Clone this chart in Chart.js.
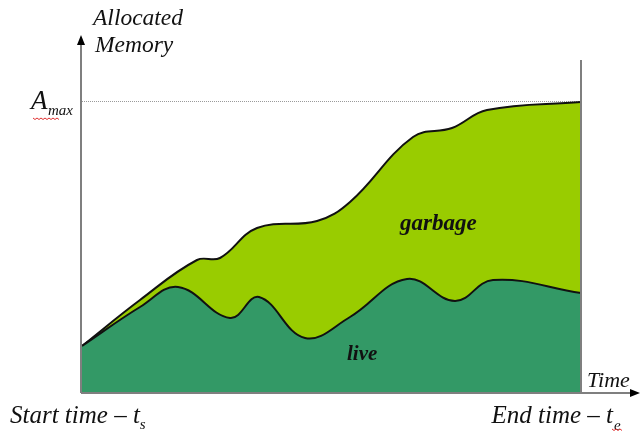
<!DOCTYPE html>
<html>
<head>
<meta charset="utf-8">
<script src="https://cdn.jsdelivr.net/npm/chart.js@4.4.1/dist/chart.umd.min.js"></script>
<style>
  html, body { margin: 0; padding: 0; background: #fff; }
  canvas { display: block; }
</style>
</head>
<body>
<canvas id="memChart" width="641" height="432"></canvas>
<script>
// time runs 0..499 (start -> end), memory 0..358 (Amax ~ 292)
const liveTime = [0, 58, 96, 148, 177, 223, 268, 325, 373, 411, 499];
const liveMemory = [47, 86, 106, 75, 96, 55, 76, 114, 92, 113, 100];

const garbageTime = [0, 58, 115, 138, 175, 235, 268, 331, 370, 405, 499];
const garbageMemory = [47, 93, 133, 135, 165, 172, 191, 256, 265, 283, 291];

const amax = 292;
const yLabel = ['Allocated', 'Memory'];
const xLabel = 'Time';
const startLabel = 'Start time \u2013 t';
const endLabel = 'End time \u2013 t';

const toPoints = (xs, ys) => xs.map((x, i) => ({ x: x, y: ys[i] }));

const decorations = {
    id: 'decorations',
    beforeDatasetsDraw(chart) {
        const { ctx, chartArea, scales } = chart;
        const y = Math.round(scales.y.getPixelForValue(amax)) + 0.5;
        ctx.save();
        ctx.strokeStyle = '#9a9a9a';
        ctx.lineWidth = 1;
        ctx.setLineDash([1, 1]);
        ctx.beginPath();
        ctx.moveTo(chartArea.left, y);
        ctx.lineTo(chartArea.right, y);
        ctx.stroke();
        ctx.restore();
    },
    afterDraw(chart) {
        const { ctx, chartArea } = chart;
        const left = chartArea.left, bottom = chartArea.bottom, right = chartArea.right;
        ctx.save();
        ctx.strokeStyle = '#7f7f7f';
        ctx.lineWidth = 2;
        // axes
        ctx.beginPath();
        ctx.moveTo(left - 1, bottom);
        ctx.lineTo(left - 1, 44);
        ctx.moveTo(left - 1, bottom);
        ctx.lineTo(630, bottom);
        ctx.moveTo(right, bottom);
        ctx.lineTo(right, 60);
        ctx.stroke();
        // arrow heads
        ctx.fillStyle = '#000';
        ctx.beginPath();
        ctx.moveTo(left - 1, 35);
        ctx.lineTo(left - 5, 45);
        ctx.lineTo(left + 3, 45);
        ctx.closePath();
        ctx.fill();
        ctx.beginPath();
        ctx.moveTo(640, bottom);
        ctx.lineTo(630, bottom - 4);
        ctx.lineTo(630, bottom + 4);
        ctx.closePath();
        ctx.fill();

        // text
        ctx.fillStyle = '#111';
        ctx.textBaseline = 'alphabetic';
        ctx.font = 'italic 23.5px "Liberation Serif"';
        ctx.fillText(yLabel[0], 93, 25);
        ctx.fillText(yLabel[1], 95, 52);
        ctx.font = 'italic 22px "Liberation Serif"';
        ctx.fillText(xLabel, 587, 387);

        ctx.font = 'italic 27px "Liberation Serif"';
        ctx.fillText('A', 31, 109);
        ctx.font = 'italic 15px "Liberation Serif"';
        ctx.fillText('max', 48, 115);

        ctx.font = 'italic 25px "Liberation Serif"';
        ctx.fillText(startLabel, 10, 423);
        let w = ctx.measureText(startLabel).width;
        ctx.font = 'italic 15px "Liberation Serif"';
        ctx.fillText('s', 10 + w, 429);

        ctx.font = 'italic 25px "Liberation Serif"';
        const endW = ctx.measureText(endLabel).width;
        const endX = 613 - endW;
        ctx.fillText(endLabel, endX, 423);
        ctx.font = 'italic 15px "Liberation Serif"';
        ctx.fillText('e', 614, 430);

        ctx.font = 'italic bold 23px "Liberation Serif"';
        ctx.fillText('garbage', 400, 230);
        ctx.font = 'italic bold 21px "Liberation Serif"';
        ctx.fillText('live', 347, 360);

        // spell-check squiggles
        ctx.strokeStyle = '#e03030';
        ctx.lineWidth = 1;
        const squiggle = (x0, x1, yy) => {
            ctx.beginPath();
            for (let x = x0, k = 0; x <= x1; x += 2, k++) {
                const py = yy + (k % 2 ? 1.5 : 0);
                if (k === 0) ctx.moveTo(x, py); else ctx.lineTo(x, py);
            }
            ctx.stroke();
        };
        squiggle(33, 59, 118);
        squiggle(612, 622, 429);
        ctx.restore();
    }
};

new Chart(document.getElementById('memChart'), {
    type: 'line',
    data: {
        datasets: [{
            label: 'live',
            data: toPoints(liveTime, liveMemory),
            borderColor: '#111',
            borderWidth: 2,
            backgroundColor: '#339966',
            fill: 'origin',
            pointRadius: 0,
            tension: 0.4
        }, {
            label: 'garbage',
            data: toPoints(garbageTime, garbageMemory),
            borderColor: '#111',
            borderWidth: 2,
            backgroundColor: '#99cc00',
            fill: 'origin',
            pointRadius: 0,
            tension: 0.4
        }]
    },
    options: {
        responsive: false,
        animation: false,
        layout: { padding: { left: 82, right: 60, top: 35, bottom: 39 } },
        plugins: { legend: { display: false }, tooltip: { enabled: false } },
        scales: {
            x: { type: 'linear', min: 0, max: 499, display: false },
            y: { min: 0, max: 358, display: false }
        }
    },
    plugins: [decorations]
});
</script>
</body>
</html>
